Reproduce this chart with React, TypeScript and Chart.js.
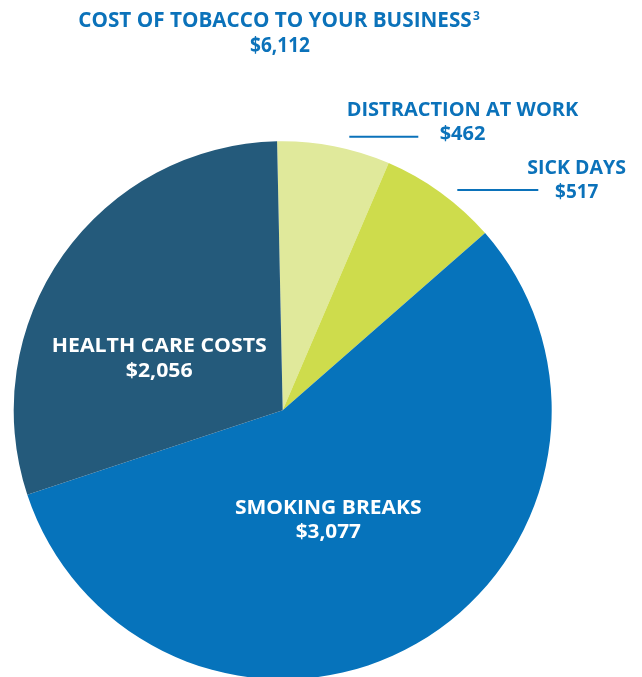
import React, { useEffect, useRef } from "react";
import { Chart, registerables } from "chart.js";

Chart.register(...registerables);

// ---- data ----
const categories = ["DISTRACTION AT WORK", "SICK DAYS", "SMOKING BREAKS", "HEALTH CARE COSTS"];
const costs = [462, 517, 3077, 2056];
// slice sizes as drawn in the picture (degrees of the circle)
const sliceDegrees = [24.4, 25.6, 202.9, 107.1];
const sliceColors = ["#e0e99b", "#cedc4c", "#0673bb", "#245a7b"];
const titleText = "COST OF TOBACCO TO YOUR BUSINESS";
const titleNote = "3";
const totalCost = 6112;

const TEXT_BLUE = "#0b72ba";
const FONT = '"Open Sans", "DejaVu Sans", sans-serif';

const fmt = (v: number) => "$" + v.toLocaleString("en-US");

// label layout: [centerX, nameBaseline, nameWidth, valueBaseline, valueWidth, color]
const labelLayout: Array<[number, number, number, number, number, string]> = [
  [462.5, 116, 231.7, 140, 45.7, TEXT_BLUE],
  [576.7, 174, 98.7, 198.3, 43.3, TEXT_BLUE],
  [328.3, 514.3, 186.7, 538.3, 65.3, "#ffffff"],
  [159.2, 351.7, 215, 376.7, 66.7, "#ffffff"],
];
const leaderLines: Array<[number, number, number] | null> = [
  [349.3, 418.3, 136.7],
  [457.3, 538.3, 190],
  null,
  null,
];

// draw text stretched/compressed horizontally so it spans `width` from `left`
function fitText(ctx: CanvasRenderingContext2D, text: string, left: number, base: number, width: number) {
  ctx.textAlign = "left";
  const w = ctx.measureText(text).width;
  const sx = w > 0 ? width / w : 1;
  ctx.save();
  ctx.translate(left, base);
  ctx.scale(sx, 1);
  ctx.fillText(text, 0, 0);
  ctx.restore();
}

const textPlugin = {
  id: "infoText",
  afterDraw(chart: any) {
    const ctx = chart.ctx as CanvasRenderingContext2D;
    ctx.save();
    ctx.textBaseline = "alphabetic";
    ctx.fillStyle = TEXT_BLUE;
    ctx.font = `bold 21px ${FONT}`;
    fitText(ctx, titleText, 78.3, 27.3, 393.4);
    ctx.font = `bold 12px ${FONT}`;
    ctx.fillText(titleNote, 473, 19.5);
    ctx.font = `bold 21px ${FONT}`;
    fitText(ctx, fmt(totalCost), 250, 51.7, 60);

    categories.forEach((name, i) => {
      const [cx, nb, nw, vb, vw, col] = labelLayout[i];
      ctx.fillStyle = col;
      ctx.font = `bold 19.5px ${FONT}`;
      fitText(ctx, name, cx - nw / 2, nb, nw);
      fitText(ctx, fmt(costs[i]), cx - vw / 2, vb, vw);
      const ll = leaderLines[i];
      if (ll) {
        ctx.strokeStyle = TEXT_BLUE;
        ctx.lineWidth = 2;
        ctx.beginPath();
        ctx.moveTo(ll[0], ll[2]);
        ctx.lineTo(ll[1], ll[2]);
        ctx.stroke();
      }
    });
    ctx.restore();
  },
};

export default function App() {
  const ref = useRef<HTMLCanvasElement | null>(null);
  useEffect(() => {
    if (!ref.current) return;
    const chart = new Chart(ref.current, {
      type: "pie",
      data: {
        labels: categories,
        datasets: [
          {
            data: sliceDegrees,
            backgroundColor: sliceColors,
            borderWidth: 0,
            hoverOffset: 0,
            offset: 0,
          },
        ],
      },
      options: {
        responsive: false,
        animation: false,
        events: [],
        rotation: -1.2,
        layout: { padding: { left: 13.7, right: 90.3, top: 141.3, bottom: 20.7 } },
        plugins: {
          legend: { display: false },
          tooltip: { enabled: false },
          title: { display: false },
        },
      },
      plugins: [textPlugin],
    });
    return () => chart.destroy();
  }, []);
  return (
    <div
      style={{
        position: "absolute",
        left: 0,
        top: 0,
        width: 642,
        height: 677,
        overflow: "hidden",
        background: "#ffffff",
      }}
    >
      <canvas ref={ref} width={642} height={700} style={{ width: 642, height: 700, display: "block" }} />
    </div>
  );
}
